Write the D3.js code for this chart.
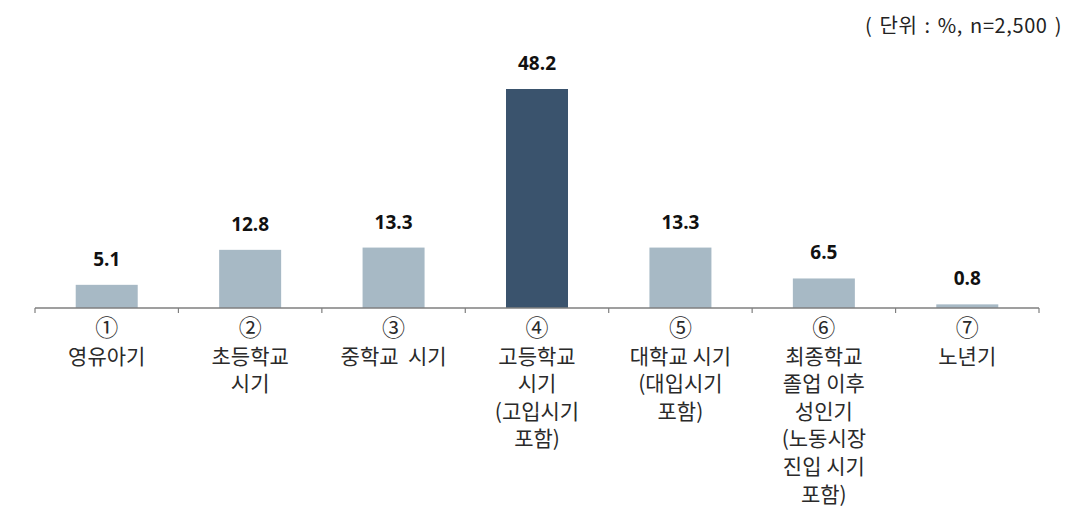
<!DOCTYPE html>
<html><head><meta charset="utf-8">
<script src="https://cdn.jsdelivr.net/npm/d3@7"></script>
<style>body{margin:0;background:#fff}svg{display:block}</style>
</head><body><svg id="c" width="1074" height="527"></svg>
<script>
const categories = ["① 영유아기","② 초등학교 시기","③ 중학교 시기","④ 고등학교 시기 (고입시기 포함)","⑤ 대학교 시기 (대입시기 포함)","⑥ 최종학교 졸업 이후 성인기 (노동시장 진입 시기 포함)","⑦ 노년기"];
const labelLines = [
  ["①","영유아기"],
  ["②","초등학교","시기"],
  ["③","중학교  시기"],
  ["④","고등학교","시기","(고입시기","포함)"],
  ["⑤","대학교 시기","(대입시기","포함)"],
  ["⑥","최종학교","졸업 이후","성인기","(노동시장","진입 시기","포함)"],
  ["⑦","노년기"]
];
const values = [5.1, 12.8, 13.3, 48.2, 13.3, 6.5, 0.8];
const highlight = [false,false,false,true,false,false,false];
const unitText = "( 단위 : %, n=2,500 )";

const svg = d3.select("#c");
const font = "'Noto Sans CJK KR','Noto Sans',sans-serif";
const x = d3.scaleBand().domain(categories).range([35, 1039]).paddingInner(0).paddingOuter(0);
const y = d3.scaleLinear().domain([0, 48.2]).range([308, 89]);
const barW = 62;

svg.append("g").selectAll("rect").data(values).join("rect")
  .attr("x",(d,i)=>x(categories[i]) + x.bandwidth()/2 - barW/2)
  .attr("y",d=>y(d)).attr("width",barW).attr("height",d=>y(0)-y(d))
  .attr("fill",(d,i)=>highlight[i] ? "#3a536d" : "#a7b9c5");

svg.append("g").selectAll("text").data(values).join("text")
  .attr("x",(d,i)=>x(categories[i]) + x.bandwidth()/2)
  .attr("y",d=>y(d)-19)
  .attr("text-anchor","middle").attr("font-family","'Open Sans','DejaVu Sans',sans-serif")
  .attr("font-weight","bold").attr("font-size",19).attr("fill","#111")
  .text(d=>d.toFixed(1));

// axis
const axis = d3.axisBottom(x).tickSize(0).tickFormat("");
const ag = svg.append("g").attr("transform","translate(0,308)").call(axis);
ag.select(".domain").attr("stroke","#7f7f7f").attr("stroke-width",1.5).attr("d","M35,0H1039");
const bounds = categories.map(c=>x(c)).concat([x.range()[1]]);
ag.selectAll("line.b").data(bounds).join("line").attr("class","b")
  .attr("x1",d=>d).attr("x2",d=>d).attr("y1",0).attr("y2",5)
  .attr("stroke","#7f7f7f").attr("stroke-width",1.2);

const lg = svg.append("g");
categories.forEach((c,i)=>{
  const t = lg.append("text").attr("x", x(c)+x.bandwidth()/2).attr("y",336)
    .attr("text-anchor","middle").attr("font-family",font).attr("font-size",21).attr("fill","#2a2a2a")
    .style("white-space","pre");
  labelLines[i].forEach((ln,j)=>{
    t.append("tspan").attr("x", x(c)+x.bandwidth()/2).attr("y", 336 + j*27.6)
      .attr("font-size", j===0 ? 23 : 21).text(ln);
  });
});

svg.append("text").attr("x",1062).attr("y",33).attr("text-anchor","end")
  .attr("font-family",font).attr("font-size",20).attr("letter-spacing",0.6).attr("word-spacing",2)
  .attr("fill","#222").text(unitText);
</script></body></html>
